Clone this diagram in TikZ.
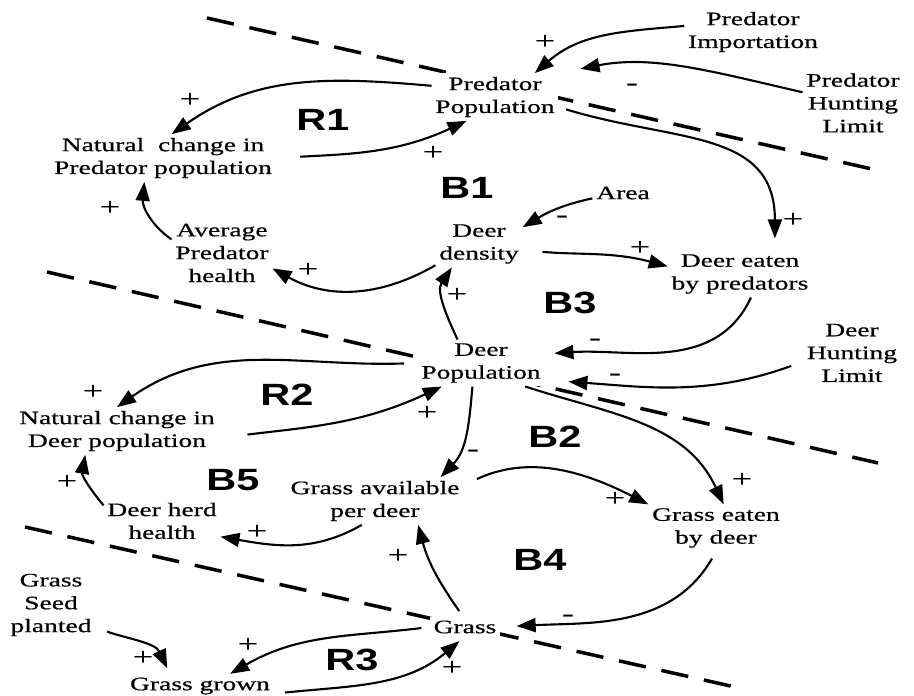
\documentclass[tikz,border=0pt]{standalone}
\usepackage{fontspec}
\setmainfont[FakeStretch=1.45,FakeBold=0.6]{Liberation Serif}
\newfontfamily\loopfont[FakeStretch=1.35]{Liberation Sans}
\usetikzlibrary{arrows.meta}

\begin{document}
\begin{tikzpicture}[x=0.02cm, y=0.02cm,
    varbox/.style={font=\fontsize{10.8}{13}\selectfont, align=center, inner sep=2pt, fill=white},
    looptag/.style={font=\loopfont\bfseries\fontsize{17.5}{17.5}\selectfont, inner sep=0pt},
    polarity/.style={font=\fontsize{14}{14}\selectfont, inner sep=0pt},
    causal/.style={-{Triangle[length=3.8mm,width=2.8mm]}, line width=1.2pt},
    trenn/.style={line width=2pt, dash pattern=on 0.55cm off 0.32cm}]
    \useasboundingbox (0,0) rectangle (914,696);

    % Trennlinien
    \draw[trenn] (207,678) -- (885,524);
    \draw[trenn] (47,424) -- (878,233);
    \draw[trenn] (25,169) -- (735,9);

    % Variablen
    \node[varbox] (pimport) at (753,664) {Predator\\Importation};
    \node[varbox] (ppop) at (495,599) {Predator\\Population};
    \node[varbox] (phunt) at (853,593) {Predator\\Hunting\\Limit};
    \node[varbox] (ncpred) at (163,538) {Natural~ change in\\Predator population};
    \node[varbox] (avghealth) at (222,443) {Average\\Predator\\health};
    \node[varbox] (area) at (623,503) {Area};
    \node[varbox] (ddens) at (479,452) {Deer\\density};
    \node[varbox] (deaten) at (740,422) {Deer eaten\\by predators};
    \node[varbox] (dpop) at (481,333) {Deer\\Population};
    \node[varbox] (dhunt) at (852,343) {Deer\\Hunting\\Limit};
    \node[varbox] (ncdeer) at (117,265) {Natural change in\\Deer population};
    \node[varbox] (herd) at (162,175) {Deer herd\\health};
    \node[varbox] (gavail) at (375,195) {Grass available\\per deer};
    \node[varbox] (geaten) at (716,168) {Grass eaten\\by deer};
    \node[varbox] (grass) at (465,69) {Grass};
    \node[varbox] (seed) at (51,91) {Grass\\Seed\\planted};
    \node[varbox] (grown) at (200,10) {Grass grown};

    % Schleifen
    \node[looptag] (r1) at (323,576) {R1};
    \node[looptag] (b1) at (467,508) {B1};
    \node[looptag] (b3) at (570,393) {B3};
    \node[looptag] (r2) at (287,301) {R2};
    \node[looptag] (b2) at (555,259) {B2};
    \node[looptag] (b5) at (233,216) {B5};
    \node[looptag] (b4) at (540,136) {B4};
    \node[looptag] (r3) at (352,36) {R3};

    % Wirkungen Raeuber
    \draw[causal] (ppop.170) to[out=175,in=35] (ncpred.70);
    \draw[causal, shorten <=0.49cm] (ncpred.east) to[out=3,in=205] (ppop.220);
    \draw[causal] (avghealth.165) to[out=145,in=-95] (ncpred.232);
    \draw[causal] (pimport.175) to[out=185,in=41] (ppop.31);
    \draw[causal, shorten >=0.45cm] (phunt.168) to[out=167,in=11] (ppop.north east);
    \draw[causal, shorten <=0.16cm, shorten >=0.24cm] (ppop.-9) to[out=-17,in=90,looseness=1.2] (deaten.34);
    \draw[causal] (area.190) to[out=192,in=31] (ddens.21);
    \draw[causal] (ddens.206) to[out=210,in=-29] (avghealth.-17);
    \draw[causal, shorten <=0.4cm] (ddens.-8) to[out=-5,in=165] (deaten.174);

    % Wirkungen Hirsche
    \draw[causal] (dpop.135) to[out=115,in=-124] (ddens.221);
    \draw[causal, shorten >=0.2cm] (deaten.-65) to[out=245,in=4] (dpop.8);
    \draw[causal, shorten <=0.25cm, shorten >=0.48cm] (dhunt.190) to[out=200,in=-4] (dpop.-15);
    \draw[causal, shorten <=0.27cm] (dpop.west) to[out=182,in=35] (ncdeer.north);
    \draw[causal, shorten <=0.58cm] (ncdeer.-4) to[out=7,in=205] (dpop.211);
    \draw[causal] (herd.165) to[out=130,in=-100] (ncdeer.217);
    \draw[causal] (dpop.250) to[out=-95,in=46] (gavail.20);
    \draw[causal] (dpop.-28) to[out=-18,in=115] (geaten.72);
    \draw[causal, shorten <=0.3cm] (gavail.10) to[out=25,in=153] (geaten.north west);
    \draw[causal] (gavail.241) to[out=210,in=-10] (herd.-15);

    % Wirkungen Gras
    \draw[causal, shorten <=0.14cm] (grass.100) to[out=125,in=-75] (gavail.-29);
    \draw[causal, shorten <=0.16cm, shorten >=0.33cm] (geaten.south) to[out=240,in=3] (grass.east);
    \draw[causal, shorten <=0.25cm, shorten >=0.12cm] (seed.-27) to[out=-19,in=115] (grown.158);
    \draw[causal, shorten <=0.17cm] (grass.west) to[out=187,in=30] (grown.22);
    \draw[causal, shorten <=0.23cm, shorten >=0.12cm] (grown.-6) to[out=6,in=220] (grass.265);

    % Vorzeichen
    \node[polarity] (s1) at (190,596) {+};
    \node[polarity] (s2) at (433,543) {+};
    \node[polarity] (s3) at (110,488) {+};
    \node[polarity] (s4) at (545,654) {+};
    \node[polarity] (s5) at (632,609) {-};
    \node[polarity] (s6) at (793,476) {+};
    \node[polarity] (s7) at (562,477) {-};
    \node[polarity] (s8) at (308,426) {+};
    \node[polarity] (s9) at (457,401) {+};
    \node[polarity] (s10) at (640,448) {+};
    \node[polarity] (s11) at (595,354) {-};
    \node[polarity] (s12) at (615,319) {-};
    \node[polarity] (s13) at (93,304) {+};
    \node[polarity] (s14) at (427,283) {+};
    \node[polarity] (s15) at (67,214) {+};
    \node[polarity] (s16) at (473,243) {-};
    \node[polarity] (s17) at (742,216) {+};
    \node[polarity] (s18) at (615,197) {+};
    \node[polarity] (s19) at (257,164) {+};
    \node[polarity] (s20) at (398,140) {+};
    \node[polarity] (s21) at (568,78) {-};
    \node[polarity] (s22) at (143,38) {+};
    \node[polarity] (s23) at (248,51) {+};
    \node[polarity] (s24) at (452,28) {+};
\end{tikzpicture}
\end{document}
